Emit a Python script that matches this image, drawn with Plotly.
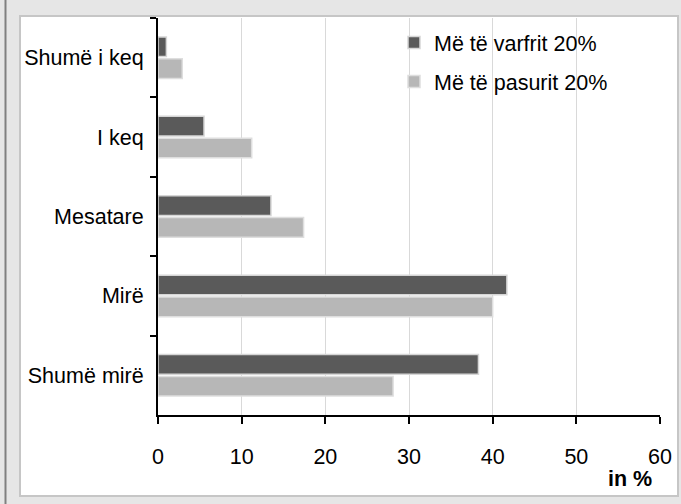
import plotly.graph_objects as go

categories = ["Shumë i keq", "I keq", "Mesatare", "Mirë", "Shumë mirë"]
poorest = [1.0, 5.5, 13.5, 41.7, 38.3]
richest = [2.9, 11.2, 17.4, 40.0, 28.1]
series_names = ["Më të varfrit 20%", "Më të pasurit 20%"]
x_ticks = [0, 10, 20, 30, 40, 50, 60]
x_title = "in %"

FONT = "Liberation Sans, Arial, sans-serif"
FS = 21.5
W, H = 681, 504
L, R, T, B = 158, 21, 18, 89
pw, ph = W - L - R, H - T - B


def px(x):
    return (x - L) / pw


def py(y):
    return 1 - (y - T) / ph


fig = go.Figure()
fig.add_trace(go.Bar(
    y=categories, x=poorest, orientation="h", name=series_names[0],
    marker=dict(color="#5a5a5a", line=dict(color="#d6d6d6", width=1.5)),
    legendgroup="a",
))
fig.add_trace(go.Bar(
    y=categories, x=richest, orientation="h", name=series_names[1],
    marker=dict(color="#b7b7b7", line=dict(color="#dedede", width=1.5)),
    legendgroup="b",
))

shapes = [
    # white panel
    dict(type="rect", xref="paper", yref="paper", layer="below",
         x0=px(20), x1=px(678), y0=py(496), y1=py(16),
         fillcolor="white", line=dict(color="#c6c6c6", width=2)),
    # left dark edge line
    dict(type="line", xref="paper", yref="paper", layer="below",
         x0=px(5.5), x1=px(5.5), y0=py(504), y1=py(0),
         line=dict(color="#808080", width=2)),
]

fig.update_layout(
    width=W, height=H,
    margin=dict(l=L, r=R, t=T, b=B),
    paper_bgcolor="#e6e6e6",
    plot_bgcolor="rgba(0,0,0,0)",
    font=dict(family=FONT, size=FS, color="black"),
    barmode="group",
    bargap=0.45,
    bargroupgap=0.1,
    shapes=shapes,
    showlegend=True,
    legend=dict(
        x=px(394), y=py(22), xanchor="left", yanchor="top",
        bgcolor="rgba(0,0,0,0)", traceorder="grouped", tracegroupgap=8,
        font=dict(family=FONT, size=FS),
    ),
    annotations=[dict(
        text="<b>" + x_title + "</b>", xref="paper", yref="paper",
        x=px(630), y=py(479), xanchor="center", yanchor="middle",
        showarrow=False, font=dict(family=FONT, size=FS),
    )],
)

fig.update_xaxes(
    range=[0, 60], tickvals=x_ticks, ticktext=[str(t) for t in x_ticks],
    showgrid=True, gridcolor="#d9d9d9", gridwidth=1,
    showline=True, linecolor="black", linewidth=2,
    ticks="outside", ticklen=7, tickwidth=2, tickcolor="black",
    ticklabelstandoff=14, zeroline=False, automargin=False,
)
fig.update_yaxes(
    autorange="reversed", type="category",
    showline=True, linecolor="black", linewidth=2,
    ticks="outside", ticklen=6, tickwidth=2, tickcolor="black",
    tickson="boundaries", showgrid=False, ticklabelstandoff=8,
    automargin=False,
)

fig.write_html(
    "out.html",
    config={"displayModeBar": False},
    post_script="document.body.style.margin='0';document.body.style.overflow='hidden';",
)
